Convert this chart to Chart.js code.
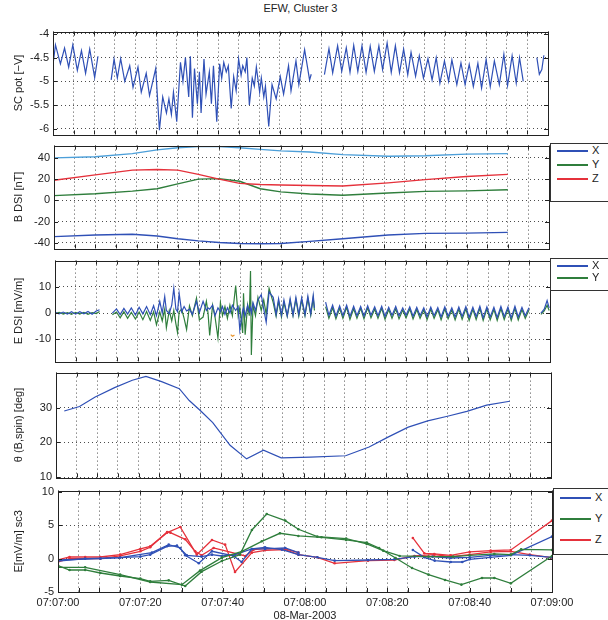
<!DOCTYPE html>
<html>
<head>
<meta charset="utf-8">
<script src="https://cdn.jsdelivr.net/npm/chart.js@4/dist/chart.umd.min.js"></script>
<style>
  body { margin: 0; background: #fff; width: 608px; height: 620px; position: relative; overflow: hidden;
         font-family: "Liberation Sans", Arial, sans-serif; color: #222; }
  canvas { position: absolute; left: 0; }
  .title { position: absolute; top: 2px; left: 53px; width: 495px; text-align: center; font-size: 11px; }
  .lg { position: absolute; border: 1px solid #333; border-right: none; background: #fff; font-size: 11px; }
  .lg i { position: absolute; left: 6px; width: 31px; height: 2px; }
  .lg b { position: absolute; left: 41px; font-weight: normal; line-height: 13px; }
</style>
</head>
<body>
<div class="title">EFW, Cluster 3</div>
<canvas id="c1"></canvas>
<canvas id="c2"></canvas>
<canvas id="c3"></canvas>
<canvas id="c4"></canvas>
<canvas id="c5"></canvas>
<div class="lg" id="lg2" style="left:550px;top:143px;width:58px;height:57px"></div>
<div class="lg" id="lg3" style="left:550px;top:258px;width:58px;height:31px"></div>
<div class="lg" id="lg5" style="left:553px;top:488px;width:55px;height:65px"></div>
<script>
// ---- axis labels (seconds after 07:07:00) ----
const gridTimes = Array.from({ length: 25 }, (_, i) => i * 5);
const timeLabels = ['07:07:00', '07:07:20', '07:07:40', '07:08:00', '07:08:20', '07:08:40', '07:09:00'];
const dateLabel = '08-Mar-2003';
const potTicks = [-6, -5.5, -5, -4.5, -4];
const bTicks = [-40, -20, 0, 20, 40];
const eTicks = [-10, 0, 10];
const thTicks = [10, 20, 30];
const e5Ticks = [-5, 0, 5, 10];

// ---- SC potential [-V], four data stretches ----
const potT1 = [0, 0.6, 1.8, 2.8, 3.8, 4.8, 5.9, 6.9, 7.9, 8.9, 10.1, 10.9];
const potV1 = [-4.65, -4.23, -4.63, -4.30, -4.70, -4.23, -4.77, -4.35, -4.83, -4.32, -4.92, -4.47];
const potT2 = [14.1, 14.8, 15.6, 16.4, 17.4, 18.6, 19.4, 20.6, 21.4, 22.6, 23.4, 24.9, 25.8, 26.6, 27.5, 28.1, 28.7,
  29.2, 30.0, 30.9, 31.5, 32.1, 32.9, 33.3, 33.8, 34.3, 35.0, 35.5, 35.9, 36.6, 37.1, 37.9, 38.4, 38.9, 39.7, 40.4,
  40.9, 41.4, 42.0, 42.5, 43.2, 43.8, 44.4, 45.0, 45.6, 46.0, 46.6, 47.0, 47.6, 48.3, 48.8, 49.3, 50.1, 50.5, 51.1,
  51.5, 52.3, 53.1, 54.1, 55.1, 55.9, 57.1, 57.7, 58.9, 59.6, 61.0, 62.2, 62.6];
const potV2 = [-4.97, -4.53, -4.93, -4.52, -5.00, -4.67, -5.13, -4.70, -5.23, -4.83, -5.30, -4.73, -6.03, -5.33, -5.67,
  -5.37, -5.70, -5.23, -5.85, -4.60, -5.00, -4.50, -5.33, -4.47, -5.77, -4.73, -5.47, -4.80, -5.67, -4.53, -5.27,
  -4.80, -5.47, -4.67, -5.85, -4.63, -4.93, -4.60, -4.80, -4.67, -5.57, -4.90, -5.20, -4.53, -4.87, -4.67, -4.80,
  -4.50, -5.50, -4.93, -5.10, -4.70, -5.23, -4.93, -5.33, -5.10, -5.95, -5.07, -5.37, -4.90, -5.27, -4.67, -5.20,
  -4.57, -5.07, -4.33, -4.97, -4.85];
const potT3 = [65.8, 66.9, 67.8, 69.0, 70.0, 71.1, 72.0, 72.9, 73.9, 74.9, 75.9, 76.9, 77.9, 79.0, 79.9, 81.0, 82.0,
  83.0, 84.0, 85.0, 86.0, 86.8, 87.9, 88.8, 89.8, 90.9, 91.9, 92.9, 93.8, 94.9, 95.9, 96.7, 97.9, 98.9, 99.9, 100.9,
  101.9, 103.0, 103.9, 105.0, 106.0, 107.0, 108.2, 109.3, 110.2, 111.3, 112.3, 113.1, 114.0];
const potV3 = [-4.86, -4.31, -4.82, -4.25, -4.79, -4.29, -4.81, -4.24, -4.79, -4.25, -4.81, -4.26, -4.79, -4.25, -4.75,
  -4.19, -4.81, -4.25, -4.82, -4.32, -4.86, -4.39, -4.89, -4.46, -4.93, -4.52, -4.97, -4.50, -5.04, -4.57, -5.00,
  -4.55, -5.07, -4.61, -5.07, -4.64, -5.11, -4.62, -5.14, -4.54, -5.11, -4.57, -5.07, -4.43, -5.09, -4.46, -5.04,
  -4.50, -5.00];
const potT4 = [117.3, 117.9, 118.5, 119.0];
const potV4 = [-4.50, -4.85, -4.75, -4.45];

// ---- B DSI [nT] ----
const bT = [0, 10, 19, 25, 30, 35, 40, 45, 50, 55, 62, 70, 81, 90, 100, 110];
const bAbs = [40, 41, 44, 47.5, 49.5, 50.5, 50.5, 49.5, 48, 46.5, 45.5, 43, 41.5, 42, 43.5, 44];
const bX = [-34, -32.5, -31.8, -33.5, -36, -38, -39.5, -40.5, -40.8, -40.5, -38.5, -36, -32.5, -31, -30.7, -30];
const bY = [4.5, 6.3, 8.7, 11, 15.5, 20, 20.5, 18, 11, 8, 6, 4.8, 7, 8.5, 9, 10];
const bZ = [19, 24, 28.5, 29, 28.5, 24.5, 20, 16, 15, 14.5, 14, 13.5, 16.5, 19.5, 22.5, 24.5];

// ---- E DSI [mV/m] ----
const eT1 = [0, 1, 2, 3, 4, 5, 6, 7, 8, 9, 10, 10.8];
const eX1 = [0.3, -0.3, 0.4, -0.4, 0.5, -0.4, 0.5, -0.3, 0.6, -0.4, 0.8, 1.3];
const eY1 = [-0.2, 0.3, -0.4, 0.2, -0.5, 0.3, -0.4, 0.3, -0.5, 0.2, -0.2, 0.6];
const eT2 = [13.9, 14.9, 15.8, 16.7, 17.6, 18.5, 19.5, 20.4, 21.3, 22.2, 23.1, 23.9,
  24.6, 25.4, 26.0, 26.6, 27.0, 27.7, 28.3, 28.8, 29.3, 29.7, 30.1, 30.7, 31.3, 31.9, 32.6, 33.3, 34.3, 35.0, 35.9,
  36.7, 37.1, 37.5, 38.2, 38.8, 39.5, 40.1, 40.6, 41.2, 41.8, 42.4, 43.0, 43.8, 44.4, 44.8, 45.5, 45.7, 46.1, 46.7,
  47.1, 47.4, 47.6, 48.0, 48.6, 49.2, 50.0, 50.6, 51.2, 51.9,
  52.9, 53.6, 54.2, 54.9, 55.5, 56.3, 57.0, 57.7, 58.4, 59.1, 59.8, 60.6, 61.3, 62.0, 62.6, 62.9];
const eX2 = [0.0, 1.6, -0.6, 1.8, -0.4, 2.0, -0.7, 2.2, -0.3, 2.5, -0.6, 2.8,
  -1.0, 4.5, 0.0, 6.3, 1.0, -0.2, 3.0, 9.5, 1.5, 0.5, 7.5, 0.5, 2.5, 0.8, 1.5, -0.5, 4.5, 0.2, 4.5,
  1.0, 2.0, 1.5, 3.0, -1.0, 2.0, 0.5, 2.5, -0.5, 2.0, 0.0, 3.0, 1.0, 2.5, -6.5, 1.0, 2.0, -1.0, 3.0,
  0.5, 2.0, 0.0, 4.0, 1.0, 5.0, 7.0, 1.5, -3.5, 8.0,
  6.0, -0.5, 5.5, -0.8, 5.0, -1.0, 5.5, -0.8, 6.0, -0.5, 5.8, -0.6, 6.5, -0.3, 6.8, 2.0];
const eY2 = [-0.6, 0.4, -1.8, 0.5, -2.0, 0.3, -2.3, 0.4, -2.5, 0.6, -2.8, 0.5,
  -4.4, 0.5, -3.0, 1.5, -5.6, 1.0, -3.0, 1.0, -4.0, -7.4, 0.5, 1.5, -2.0, -6.2, 2.7, -1.0, 5.7, -2.6, -1.5,
  4.5, 0.0, -8.5, 3.0, -1.5, -9.5, 4.0, -1.0, 2.5, -2.0, 3.0, -1.0, 10.5, -1.0, 2.0, -7.6, 7.6, -8.2, 3.0,
  -1.0, 16.0, -16.0, 3.0, -1.0, 6.0, 1.0, 5.0, -0.5, 9.4,
  4.0, -1.2, 4.5, -1.5, 4.0, -1.2, 4.8, -1.0, 5.2, -1.2, 5.0, -1.0, 5.5, -0.8, 5.8, 1.0];
const eT3 = [65.6, 66.4, 67.3, 68.1, 69.0, 69.8, 70.7, 71.5, 72.4, 73.2, 74.1, 74.9, 75.8, 76.6, 77.5, 78.3, 79.2,
  80.0, 80.9, 81.7, 82.6, 83.4, 84.3, 85.1, 86.0, 86.8, 87.7, 88.5, 89.4, 90.2, 91.1, 91.9, 92.8, 93.6, 94.5, 95.3,
  96.2, 97.0, 97.9, 98.7, 99.6, 100.4, 101.3, 102.1, 103.0, 103.8, 104.7, 105.5, 106.4, 107.2, 108.1, 108.9, 109.8,
  110.6, 111.5, 112.3, 113.2, 114.0, 114.9];
const eX3 = [4.2, -0.8, 3.0, -1.2, 2.8, -1.0, 3.0, -1.3, 2.6, -1.0, 2.5, -1.2, 2.8, -0.8, 2.4, -1.0, 2.6, -1.3, 2.2,
  -0.9, 2.5, -1.1, 2.0, -0.8, 2.4, -1.2, 2.2, -1.0, 2.0, -1.4, 2.3, -1.0, 2.1, -1.5, 2.4, -1.2, 2.0, -1.5, 2.3, -1.3,
  2.5, -1.6, 2.2, -1.4, 2.6, -1.8, 2.4, -1.5, 2.2, -1.7, 2.5, -1.4, 2.3, -1.8, 2.6, -1.5, 2.2, -1.0, 2.0];
const eY3 = [2.5, -2.0, 2.0, -2.2, 1.8, -2.0, 2.2, -2.4, 1.6, -2.0, 1.8, -2.2, 2.0, -1.8, 1.5, -2.0, 1.8, -2.4, 1.4,
  -2.0, 1.6, -2.2, 1.2, -1.8, 1.6, -2.2, 1.4, -2.0, 1.2, -2.5, 1.5, -2.0, 1.3, -2.6, 1.6, -2.2, 1.2, -2.6, 1.5, -2.4,
  1.6, -2.8, 1.4, -2.5, 1.8, -2.8, 1.6, -2.6, 1.4, -2.8, 1.7, -2.5, 1.5, -2.8, 1.8, -2.6, 1.4, -2.0, 1.2];
const eT4 = [117.8, 118.6, 119.3, 119.8];
const eX4 = [0.0, 1.5, 4.8, 2.0];
const eY4 = [-0.5, 0.8, 3.0, 1.0];
const eZT = [42.6, 43.0, 43.5];
const eZ = [-8.2, -8.8, -8.4];

// ---- theta(B,spin) [deg] ----
const thT = [2, 5.7, 9.5, 14.2, 18.5, 21.8, 25.6, 29.9, 32.3, 35.1, 38, 42.2, 46.2, 50.3, 54.6, 61.7, 70.2, 75.9,
  80.6, 85.4, 90.1, 94.9, 99.6, 104.4, 110];
const thV = [29, 30.3, 33, 35.7, 37.8, 38.9, 37.4, 35.4, 32, 29, 25.7, 19.2, 15.3, 17.8, 15.6, 15.8, 16.2, 18.7,
  21.6, 24.4, 26.2, 27.5, 28.9, 30.7, 31.8];

// ---- E [mV/m] sc3, two estimates per component ----
const sXaT = [0, 6.6, 15.1, 22.8, 26.9, 29.7, 30.9, 34.2, 37.4, 42.6, 44.6, 47.1, 50.3, 54.4, 58.4, 63, 67.2, 75.3,
  81.7, 86.6, 91, 95.4, 100, 105, 110, 114.6, 120];
const sXa = [-0.35, 0, 0.15, 0.9, 2.1, 1.6, 0.5, -0.7, 1.1, 0.4, -0.5, 1.45, 1.7, 1.35, 0.6, 0.2, -0.3, -0.2, -0.1,
  0.3, 0.3, 0.1, 0.2, 0.5, 0.6, 0.5, 0.2];
const sXbT1 = [0, 10.3, 20, 22.4, 26.5, 28.9, 31.3, 34.9, 37.4, 39.8, 43, 47.1, 50.3, 55.2, 58.4];
const sXb1 = [-0.2, 0, 0.3, 0.6, 1.85, 1.95, 0.5, 0.3, 0.6, 0.4, 0.6, 1.45, 1.45, 1.6, 0.9];
const sXbT2 = [86.2, 89, 91.5, 95.4, 98.2, 100, 105, 110, 120];
const sXb2 = [1.3, 0.2, -0.3, -0.5, -0.5, -0.1, 0.2, 0.5, 3.3];
const sYaT = [0, 2.8, 6.6, 10.3, 15.1, 20, 22.4, 26.9, 30.9, 34.9, 39.8, 44.2, 47.1, 50.7, 55.2, 58.4, 63, 70, 75,
  79, 83, 90, 96, 100, 106, 110, 112.5, 120];
const sYa = [-1.05, -1.7, -1.7, -2.15, -2.6, -3.0, -3.4, -3.25, -4.1, -1.95, -0.35, 0.6, 4.3, 6.7, 5.7, 4.4, 3.3,
  3.0, 2.2, 1.2, 0.4, 0.3, 0.3, 0.5, 0.7, 0.6, 1.4, 1.3];
const sYbT = [0, 6.6, 15.1, 22.4, 30.1, 34.5, 39.8, 44.7, 49.5, 53.9, 58.4, 64, 70, 75, 78, 82, 86, 90, 94, 98,
  103, 106, 110, 120];
const sYb = [-1.3, -1.3, -2.4, -3.5, -3.9, -1.8, 0.15, 1.1, 2.6, 3.8, 3.4, 3.2, 2.8, 2.4, 1.6, 0.1, -1.4, -2.4,
  -3.2, -3.9, -2.9, -2.9, -3.7, 0.4];
const sZaT = [0, 2.8, 6.6, 10.3, 15.1, 20, 22.4, 26.5, 29.7, 33.7, 37.4, 40.6, 43, 47.1, 50.3, 55.2, 58.4, 63, 67.2,
  75.3, 81.7, 86.6, 91.4, 95.4, 100, 105.1, 110, 114.6, 120];
const sZa = [-0.2, 0.25, 0.25, 0.25, 0.6, 1.45, 1.85, 3.9, 4.75, 0.6, 2.8, 2.1, -2.0, 0.9, 1.25, 1.35, 0.6, 0.2,
  -0.7, -0.3, -0.2, 0.4, 0.6, 0.3, 0.6, 1.0, 1.1, 0.6, 0.15];
const sZbT1 = [0, 2.8, 10.3, 15.1, 20, 22.4, 26.5, 27.3, 30.9, 33.3, 34.9, 37.8, 45.5, 47.5, 50.3, 55.2, 58.4];
const sZb1 = [-0.5, 0, 0, 0.4, 1.1, 1.7, 4.0, 3.9, 2.9, 1.1, 0.5, 1.6, 0.4, 1.35, 1.5, 1.45, 0.9];
const sZbT2 = [86.2, 89, 91.4, 95.4, 100, 105.1, 110, 120];
const sZb2 = [3.1, 0.8, 0.7, 0.5, 1.0, 1.2, 1.3, 5.7];

const blue = '#2f50b6', lightBlue = '#4c9fd9', green = '#2f7e3c', red = '#e5313b', orange = '#e9962f';
const gridColor = 'rgba(0,0,0,0.7)';

Chart.defaults.font.family = '"Liberation Sans", Arial, sans-serif';
Chart.defaults.font.size = 11;
Chart.defaults.color = '#222';

// join stretches of data; a null point in between breaks the line
function pts(...segs) {
  const out = [];
  segs.forEach(([T, V], k) => {
    if (k) out.push({ x: (out[out.length - 1].x + T[0]) / 2, y: null });
    T.forEach((t, i) => out.push({ x: t, y: V[i] }));
  });
  return out;
}

function line(data, color, extra) {
  return Object.assign({ data, borderColor: color, backgroundColor: color, borderWidth: 1.2,
    pointRadius: 0, fill: false, tension: 0 }, extra || {});
}

// box round the plot + inward tick marks, matlab style
const frame = {
  id: 'frame',
  afterDatasetsDraw(chart) {
    const { ctx, chartArea: a, scales: { x, y } } = chart;
    ctx.save();
    ctx.strokeStyle = '#222';
    ctx.lineWidth = 1;
    ctx.beginPath();
    x.ticks.forEach(t => {
      const px = Math.round(x.getPixelForValue(t.value)) + 0.5;
      ctx.moveTo(px, a.top); ctx.lineTo(px, a.top + 4);
      ctx.moveTo(px, a.bottom); ctx.lineTo(px, a.bottom - 4);
    });
    y.ticks.forEach(t => {
      const py = Math.round(y.getPixelForValue(t.value)) + 0.5;
      ctx.moveTo(a.left, py); ctx.lineTo(a.left + 4, py);
      ctx.moveTo(a.right, py); ctx.lineTo(a.right - 4, py);
    });
    ctx.stroke();
    ctx.strokeRect(Math.round(a.left) + 0.5, Math.round(a.top) + 0.5, Math.round(a.width), Math.round(a.height));
    ctx.restore();
  }
};

function panel(id, f, cfg) {
  const cv = document.getElementById(id);
  const top = f.top - 8;
  const bottom = cfg.xLabels ? 620 : f.bottom + 8;
  cv.style.top = top + 'px';
  cv.width = 608;
  cv.height = bottom - top;
  new Chart(cv, {
    type: 'line',
    data: { datasets: cfg.datasets },
    options: {
      responsive: false,
      animation: false,
      layout: { padding: { left: 0, right: 608 - f.right, top: 8, bottom: cfg.xLabels ? 0 : 8 } },
      plugins: { legend: { display: false }, tooltip: { enabled: false } },
      scales: {
        x: {
          type: 'linear', min: 0, max: 120,
          afterBuildTicks: s => { s.ticks = gridTimes.map(v => ({ value: v })); },
          afterFit: s => { s.height = cfg.xLabels ? 620 - f.bottom : 0; },
          grid: { color: gridColor, drawTicks: false },
          border: { display: false, dash: [1, 3] },
          ticks: { display: !!cfg.xLabels, autoSkip: false, maxRotation: 0, padding: 4,
                   callback: v => (v % 20 === 0 ? timeLabels[v / 20] : '') },
          title: { display: !!cfg.xLabels, text: dateLabel, padding: { top: 0, bottom: -3 } }
        },
        y: {
          min: cfg.min, max: cfg.max,
          afterBuildTicks: s => { s.ticks = cfg.ticks.map(v => ({ value: v })); },
          afterFit: s => { s.width = f.left; },
          grid: { color: gridColor, drawTicks: false },
          border: { display: false, dash: [1, 3] },
          ticks: { padding: 4, callback: v => String(v) },
          title: { display: true, text: cfg.label, padding: { top: 12, bottom: 0 } }
        }
      }
    },
    plugins: [frame]
  });
}

panel('c1', { left: 53, right: 548, top: 29, bottom: 137 }, {
  min: -6.12, max: -3.95, ticks: potTicks, label: 'SC pot [−V]',
  datasets: [line(pts([potT1, potV1], [potT2, potV2], [potT3, potV3], [potT4, potV4]), blue)]
});

panel('c2', { left: 54, right: 549, top: 143, bottom: 251 }, {
  min: -45.1, max: 51.5, ticks: bTicks, label: 'B DSI [nT]',
  datasets: [
    line(pts([bT, bAbs]), lightBlue, { borderWidth: 1.4 }),
    line(pts([bT, bZ]), red, { borderWidth: 1.4 }),
    line(pts([bT, bY]), green, { borderWidth: 1.4 }),
    line(pts([bT, bX]), blue, { borderWidth: 1.4 })
  ]
});

panel('c3', { left: 55, right: 550, top: 258, bottom: 364 }, {
  min: -18.4, max: 20, ticks: eTicks, label: 'E DSI [mV/m]',
  datasets: [
    line(pts([eT1, eX1], [eT2, eX2], [eT3, eX3], [eT4, eX4]), blue),
    line(pts([eT1, eY1], [eT2, eY2], [eT3, eY3], [eT4, eY4]), green),
    line(pts([eZT, eZ]), orange)
  ]
});

panel('c4', { left: 56, right: 551, top: 370, bottom: 480 }, {
  min: 10, max: 40, ticks: thTicks, label: 'θ (B,spin) [deg]',
  datasets: [line(pts([thT, thV]), blue)]
});

const dot = { pointRadius: 1.3, pointBorderWidth: 0, borderWidth: 1.3 };
panel('c5', { left: 58, right: 552, top: 488, bottom: 592 }, {
  min: -5, max: 10.2, ticks: e5Ticks, label: 'E[mV/m] sc3', xLabels: true,
  datasets: [
    line(pts([sYaT, sYa]), green, dot),
    line(pts([sYbT, sYb]), green, dot),
    line(pts([sXaT, sXa]), blue, dot),
    line(pts([sXbT1, sXb1], [sXbT2, sXb2]), blue, dot),
    line(pts([sZaT, sZa]), red, dot),
    line(pts([sZbT1, sZb1], [sZbT2, sZb2]), red, dot)
  ]
});

// legends outside the plots
function legend(id, items, ys) {
  const box = document.getElementById(id);
  items.forEach(([name, color], i) => {
    box.insertAdjacentHTML('beforeend',
      `<i style="top:${ys[i] - 1}px;background:${color}"></i><b style="top:${ys[i] - 7}px">${name}</b>`);
  });
}
legend('lg2', [['X', blue], ['Y', green], ['Z', red]], [7, 21, 35]);
legend('lg3', [['X', blue], ['Y', green]], [7, 19]);
legend('lg5', [['X', blue], ['Y', green], ['Z', red]], [9, 30, 51]);
</script>
</body>
</html>
